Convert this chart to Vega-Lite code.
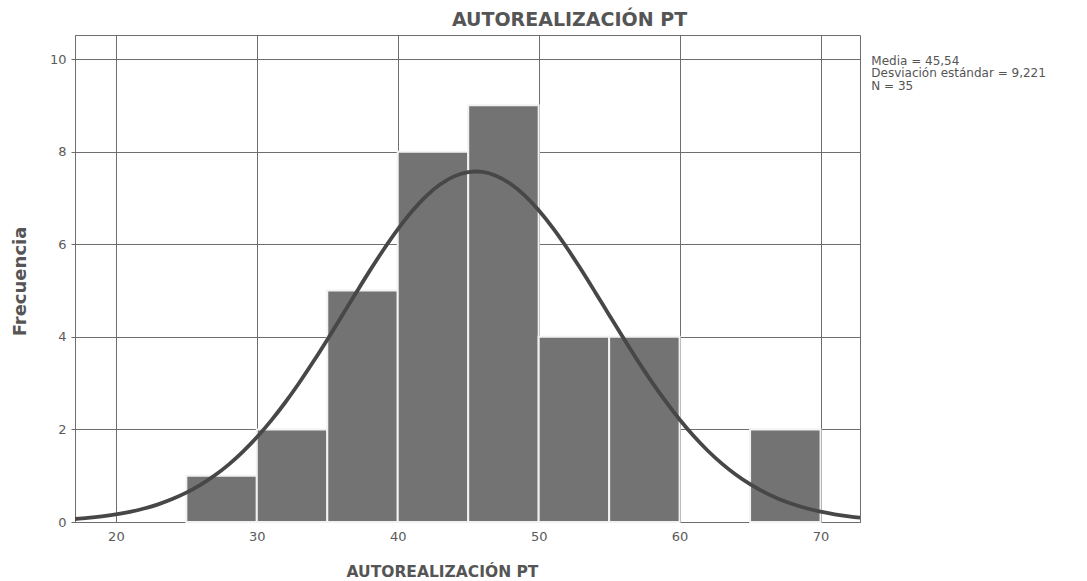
{
  "$schema": "https://vega.github.io/schema/vega-lite/v6.json",
  "autosize": "none",
  "width": 785,
  "height": 487,
  "padding": {"left": 75, "top": 35, "right": 227, "bottom": 59},
  "background": "white",
  "config": {
    "view": {"stroke": "#6e6e6e", "strokeWidth": 1},
    "axis": {
      "labelFont": "DejaVu Sans", "labelFontSize": 13, "labelColor": "#5a5a5a",
      "titleFont": "DejaVu Sans", "titleFontWeight": "bold", "titleColor": "#555555",
      "gridColor": "#6e6e6e", "gridOpacity": 1, "gridWidth": 1,
      "domainColor": "#6e6e6e", "tickColor": "#6e6e6e", "tickSize": 4
    }
  },
  "title": {
    "text": "AUTOREALIZACIÓN PT",
    "font": "DejaVu Sans", "fontSize": 19, "fontWeight": "bold", "color": "#555555",
    "anchor": "middle", "offset": 5, "dx": 102
  },
  "datasets": {
    "bins": [
      {"start": 25, "end": 30, "count": 1},
      {"start": 30, "end": 35, "count": 2},
      {"start": 35, "end": 40, "count": 5},
      {"start": 40, "end": 45, "count": 8},
      {"start": 45, "end": 50, "count": 9},
      {"start": 50, "end": 55, "count": 4},
      {"start": 55, "end": 60, "count": 4},
      {"start": 65, "end": 70, "count": 2}
    ],
    "curve": [
      {"x": 16, "y": 0.042},
      {"x": 17, "y": 0.063}, {"x": 18, "y": 0.0876}, {"x": 19, "y": 0.1203}, {"x": 20, "y": 0.1634},
      {"x": 21, "y": 0.2195}, {"x": 22, "y": 0.291}, {"x": 23, "y": 0.3817}, {"x": 24, "y": 0.4946},
      {"x": 25, "y": 0.6334}, {"x": 26, "y": 0.8019}, {"x": 27, "y": 1.003}, {"x": 28, "y": 1.24},
      {"x": 29, "y": 1.516}, {"x": 30, "y": 1.83}, {"x": 31, "y": 2.184}, {"x": 32, "y": 2.576},
      {"x": 33, "y": 3.003}, {"x": 34, "y": 3.46}, {"x": 35, "y": 3.939}, {"x": 36, "y": 4.434},
      {"x": 37, "y": 4.93}, {"x": 38, "y": 5.419}, {"x": 39, "y": 5.887}, {"x": 40, "y": 6.321},
      {"x": 41, "y": 6.707}, {"x": 42, "y": 7.033}, {"x": 43, "y": 7.289}, {"x": 44, "y": 7.466},
      {"x": 45, "y": 7.558}, {"x": 45.54, "y": 7.571}, {"x": 46, "y": 7.562}, {"x": 47, "y": 7.476},
      {"x": 48, "y": 7.306}, {"x": 49, "y": 7.056}, {"x": 50, "y": 6.735}, {"x": 51, "y": 6.354},
      {"x": 52, "y": 5.924}, {"x": 53, "y": 5.458}, {"x": 54, "y": 4.97}, {"x": 55, "y": 4.473},
      {"x": 56, "y": 3.979}, {"x": 57, "y": 3.497}, {"x": 58, "y": 3.038}, {"x": 59, "y": 2.609},
      {"x": 60, "y": 2.214}, {"x": 61, "y": 1.856}, {"x": 62, "y": 1.539}, {"x": 63, "y": 1.261},
      {"x": 64, "y": 1.021}, {"x": 65, "y": 0.8168}, {"x": 66, "y": 0.6458}, {"x": 67, "y": 0.5047},
      {"x": 68, "y": 0.3898}, {"x": 69, "y": 0.2975}, {"x": 70, "y": 0.2245}, {"x": 71, "y": 0.1674},
      {"x": 72, "y": 0.1233}, {"x": 73, "y": 0.0899}, {"x": 74, "y": 0.065}
    ],
    "stats": [
      {"x": 73.6, "y": 10.07, "label": "Media = 45,54\nDesviación estándar = 9,221\nN = 35"}
    ]
  },
  "layer": [
    {
      "data": {"name": "bins"},
      "mark": {"type": "rect", "fill": "#737373", "stroke": "#f2f2f2", "strokeWidth": 2},
      "encoding": {
        "x": {
          "field": "start", "type": "quantitative",
          "scale": {"domain": [17.1, 72.8], "nice": false, "zero": false},
          "axis": {"values": [20, 30, 40, 50, 60, 70], "grid": true, "title": "AUTOREALIZACIÓN PT", "titleFontSize": 15.5, "titleX": 367, "titleY": 54, "titleBaseline": "alphabetic", "titleAnchor": "middle", "labelPadding": 8, "tickSize": 0}
        },
        "x2": {"field": "end"},
        "y": {
          "field": "count", "type": "quantitative",
          "scale": {"domain": [0, 10.52], "nice": false},
          "axis": {"values": [0, 2, 4, 6, 8, 10], "grid": true, "title": "Frecuencia", "titleFontSize": 18, "titleX": -50, "titleY": 246, "titleAngle": -90, "titleBaseline": "alphabetic", "titleAnchor": "middle", "labelPadding": 5}
        },
        "y2": {"datum": 0}
      }
    },
    {
      "data": {"name": "curve"},
      "mark": {"type": "line", "color": "#474747", "strokeWidth": 3.8, "clip": true, "interpolate": "monotone"},
      "encoding": {
        "x": {"field": "x", "type": "quantitative"},
        "y": {"field": "y", "type": "quantitative"}
      }
    },
    {
      "data": {"name": "stats"},
      "mark": {"type": "text", "align": "left", "baseline": "top", "font": "DejaVu Sans", "fontSize": 12, "color": "#555555", "lineBreak": "\n", "lineHeight": 12.5, "clip": false},
      "encoding": {
        "x": {"field": "x", "type": "quantitative"},
        "y": {"field": "y", "type": "quantitative"},
        "text": {"field": "label"}
      }
    }
  ]
}
